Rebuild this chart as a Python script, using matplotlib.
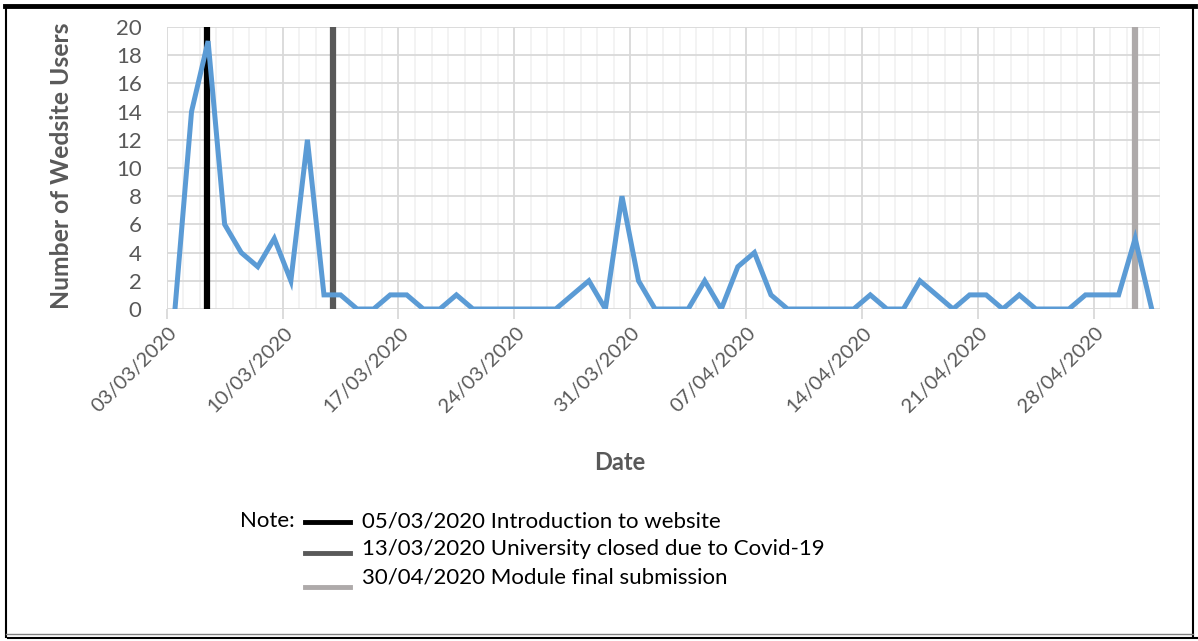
import matplotlib
matplotlib.use("Agg")
import matplotlib.pyplot as plt
import matplotlib.transforms as mtransforms
from matplotlib.lines import Line2D
import numpy as np
import datetime as dt

plt.rcParams['font.family'] = ['Lato', 'DejaVu Sans']

start_date = dt.date(2020, 3, 3)
n_days = 60
users = [0, 14, 19, 6, 4, 3, 5, 2, 12, 1,
         1, 0, 0, 1, 1, 0, 0, 1, 0, 0,
         0, 0, 0, 0, 1, 2, 0, 8, 2, 0,
         0, 0, 2, 0, 3, 4, 1, 0, 0, 0,
         0, 0, 1, 0, 0, 2, 1, 0, 1, 1,
         0, 1, 0, 0, 0, 1, 1, 1, 5, 0]
event_pos = [2.45, 10.05, 58.5]
event_colors = ['#000000', '#595959', '#AEAAAA']
event_labels = ['05/03/2020 Introduction to website',
                '13/03/2020 University closed due to Covid-19',
                '30/04/2020 Module final submission']
tick_days = list(range(0, 57, 7))
tick_labels = [(start_date + dt.timedelta(days=d)).strftime('%d/%m/%Y') for d in tick_days]

W, H = 1198, 641
fig = plt.figure(figsize=(W / 100, H / 100), dpi=100)
ax = fig.add_axes([166.7 / W, 1 - 309 / H, (1160 - 166.7) / W, (309 - 27) / H])

x = np.arange(n_days) + 0.5
ax.set_xlim(0, n_days)
ax.set_ylim(0, 20)

# grid
for d in range(0, n_days + 1):
    c = '#D9D9D9' if d % 7 == 0 else '#F2F2F2'
    ax.axvline(d, color=c, lw=1.3, zorder=0)
for yv in range(0, 21, 2):
    ax.axhline(yv, color='#D9D9D9', lw=1.3, zorder=0)

for p, c in zip(event_pos, event_colors):
    ax.axvline(p, color=c, lw=4.5, zorder=2)

ax.plot(x, users, color='#5B9BD5', lw=3.6, zorder=3, solid_joinstyle='miter')

for s in ax.spines.values():
    s.set_visible(False)

ax.set_yticks(range(0, 21, 2))
ax.set_xticks(tick_days)
ax.set_xticklabels([''] * len(tick_days))
ax.tick_params(axis='x', length=7, width=1.3, color='#D9D9D9', pad=2)
ax.tick_params(axis='y', length=0, labelsize=16, labelcolor='#595959', pad=18)

# rotated date labels (placed relative to tick positions)
base = ax.get_xaxis_transform()
off = mtransforms.ScaledTranslation(13 / 100, -15 / 100, fig.dpi_scale_trans)
for d, lab in zip(tick_days, tick_labels):
    ax.text(d, 0, lab, transform=base + off, rotation=45, ha='right', va='top',
            fontsize=14.5, color='#595959', clip_on=False)

fig.text(62 / W, 1 - 166 / H, 'Number of Wedsite Users', fontsize=17.8, fontweight='bold',
         color='#595959', ha='center', va='center', rotation=90)
fig.text(620 / W, 1 - 462 / H, 'Date', fontsize=17, fontweight='bold', color='#595959',
         ha='center', va='center')

# note / legend
fig.text(240 / W, 1 - 521 / H, 'Note:', fontsize=16, color='#000000', ha='left', va='center')
rows_y = [521, 549, 578]
line_y = [522, 553, 587]
for ty, ly, c, lab in zip(rows_y, line_y, event_colors, event_labels):
    fig.add_artist(Line2D([305 / W, 350 / W], [1 - ly / H, 1 - ly / H], color=c, lw=3.5,
                          transform=fig.transFigure))
    fig.text(362 / W, 1 - ty / H, lab, fontsize=16, color='#000000', ha='left', va='center')

# frame
def fl(x0, y0, x1, y1, c='black', lw=1.5):
    fig.add_artist(Line2D([x0 / W, x1 / W], [1 - y0 / H, 1 - y1 / H], color=c, lw=lw,
                          transform=fig.transFigure))
fl(5, 6, 1195, 6, lw=3.5)
fl(6, 6, 6, 637, lw=1.5)
fl(1193, 6, 1193, 636, lw=1.5)
fl(6, 634, 1193, 634, c='#808080', lw=1.0)
fl(8, 638, 1198, 638, lw=1.5)

fig.savefig('out.png', dpi=100)
